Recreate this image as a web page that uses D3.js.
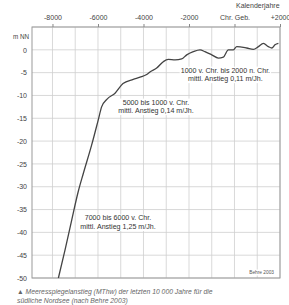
<!DOCTYPE html>
<html><head><meta charset="utf-8">
<script src="https://cdn.jsdelivr.net/npm/d3@7"></script>
<style>body{margin:0;background:#fff}svg{display:block}</style>
</head><body>
<script>
const years = [-7740,-7450,-7155,-6870,-6645,-6280,-5990,-5840,-5600,-5250,-4900,-4450,-4150,-3860,-3700,-3420,-3130,-2910,-2610,-2320,-2100,-1810,-1515,-1300,-1000,-710,-490,-270,-50,100,540,830,1050,1270,1490,1640,1780,1930];
const levels = [-50,-43.9,-37.3,-31.1,-27.1,-20.9,-15.4,-12.5,-10.8,-9.5,-7.4,-6.5,-6.0,-5.4,-4.8,-4.0,-2.6,-2.1,-2.2,-2.0,-1.1,-0.4,0,-0.4,-1.1,-1.8,-1.6,0,0,0.7,0.4,0.1,0.7,1.4,0.7,0.4,1.1,1.4];
const xTicks = [-8000,-6000,-4000,-2000,0,2000];
const xTickLabels = ["-8000","-6000","-4000","-2000","Chr. Geb.","+2000"];
const yTicks = [0,-5,-10,-15,-20,-25,-30,-35,-40,-45,-50];
const annotations = [
  {year:-400, level:-5.0, lines:["1000 v. Chr. bis 2000 n. Chr.","mittl. Anstieg 0,11 m/Jh."]},
  {year:-3450, level:-12.0, lines:["5000 bis 1000 v. Chr.","mittl. Anstieg 0,14 m/Jh."]},
  {year:-5120, level:-37.4, lines:["7000 bis 6000 v. Chr.","mittl. Anstieg 1,25 m/Jh."]}
];

const W=289,H=305;
const svg=d3.select("body").append("svg").attr("width",W).attr("height",H);
const x=d3.scaleLinear().domain([-8900,2000]).range([32,280]);
const y=d3.scaleLinear().domain([-50,5]).range([278,27]);
const font="Liberation Sans, Arial, sans-serif";

// grid
const g=svg.append("g");
g.selectAll("line.v").data(d3.range(-8000,2001,1000)).join("line")
 .attr("x1",d=>x(d)).attr("x2",d=>x(d)).attr("y1",y(5)).attr("y2",y(-50))
 .attr("stroke","#cfcfcf").attr("stroke-width",0.8);
g.selectAll("line.h").data(d3.range(-50,5.1,5)).join("line")
 .attr("x1",x(-8900)).attr("x2",x(2000)).attr("y1",d=>y(d)).attr("y2",d=>y(d))
 .attr("stroke","#cfcfcf").attr("stroke-width",0.8);
svg.append("rect").attr("x",x(-8900)).attr("y",y(5)).attr("width",x(2000)-x(-8900)).attr("height",y(-50)-y(5))
 .attr("fill","none").attr("stroke","#9a9a9a").attr("stroke-width",1);

// top axis
const xa=d3.axisTop(x).tickValues(xTicks).tickSize(3).tickFormat((d,i)=>xTickLabels[i]);
const xg=svg.append("g").attr("transform",`translate(0,${y(5)})`).call(xa);
xg.select(".domain").remove();
xg.selectAll("line").attr("stroke","#888");
xg.selectAll("text").attr("font-family",font).attr("font-size",7).attr("fill","#444").attr("dy","-0.1em");

// left axis
const ya=d3.axisLeft(y).tickValues(yTicks).tickSize(0).tickPadding(5).tickFormat(d=>d);
const yg=svg.append("g").attr("transform",`translate(${x(-8900)},0)`).call(ya);
yg.select(".domain").remove();
yg.selectAll("text").attr("font-family",font).attr("font-size",7).attr("fill","#444");

svg.append("text").attr("x",29).attr("y",39).attr("text-anchor","end").attr("font-family",font)
 .attr("font-size",6.3).attr("fill","#444").text("m NN");
svg.append("text").attr("x",236).attr("y",8).attr("font-family",font)
 .attr("font-size",7).attr("fill","#444").text("Kalenderjahre");

// curve
const data=years.map((d,i)=>({year:d,level:levels[i]}));
svg.append("path").datum(data)
 .attr("d",d3.line().x(d=>x(d.year)).y(d=>y(d.level)).curve(d3.curveMonotoneX))
 .attr("fill","none").attr("stroke","#444").attr("stroke-width",1.3).attr("stroke-linejoin","round");

// annotations
annotations.forEach(a=>{
  const cx=x(a.year), cy=y(a.level);
  const t=svg.append("text").attr("font-family",font).attr("font-size",7.1).attr("fill","#333").attr("text-anchor","middle");
  a.lines.forEach((l,i)=>t.append("tspan").attr("x",cx).attr("y",cy+i*8.5).text(l));
  const bb=t.node().getBBox();
  svg.insert("rect",()=>t.node()).attr("x",bb.x-1).attr("y",bb.y).attr("width",bb.width+2).attr("height",bb.height).attr("fill","#fff");
});

// source
const st=svg.append("text").attr("x",274).attr("y",274).attr("text-anchor","end").attr("font-family",font)
 .attr("font-size",4.8).attr("fill","#555").text("Behre 2003");
const sb=st.node().getBBox();
svg.insert("rect",()=>st.node()).attr("x",sb.x-2).attr("y",sb.y-0.5).attr("width",sb.width+4).attr("height",sb.height+1).attr("fill","#fff");

// caption
svg.append("text").attr("x",17).attr("y",294).attr("font-family",font).attr("font-size",6.8)
 .attr("font-style","italic").attr("fill","#666")
 .text("▲ Meeresspiegelanstieg (MThw) der letzten 10 000 Jahre für die");
svg.append("text").attr("x",17).attr("y",302.5).attr("font-family",font).attr("font-size",6.8)
 .attr("font-style","italic").attr("fill","#666")
 .text("südliche Nordsee (nach Behre 2003)");
</script>
</body></html>
